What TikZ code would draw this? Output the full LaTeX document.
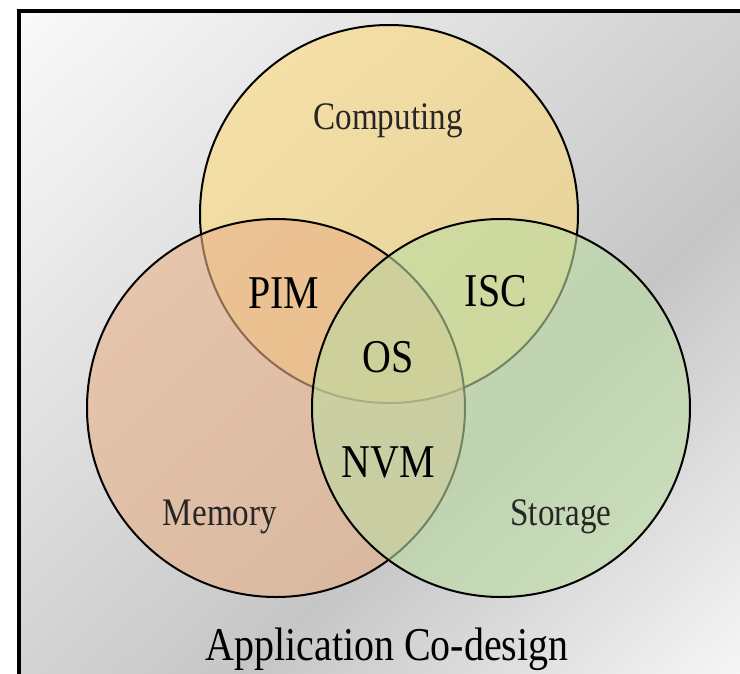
\documentclass[tikz,border=0pt]{standalone}
\usepackage{fontspec}
\setmainfont{Liberation Serif}[FakeStretch=0.85]

% panel background and set colours
\definecolor{bgA}{RGB}{250,250,250}
\definecolor{bgB}{RGB}{198,198,198}
\definecolor{bgC}{RGB}{246,246,246}
\definecolor{compC}{RGB}{252,218,122}
\definecolor{memC}{RGB}{233,177,137}
\definecolor{storC}{RGB}{188,220,162}

% light -> dark band -> light, across the panel diagonal
\pgfdeclarehorizontalshading{panelshade}{100bp}{%
  color(0bp)=(bgA); color(26bp)=(bgA); color(57.8bp)=(bgB);
  color(75bp)=(bgC); color(100bp)=(bgC)}

\begin{document}
\begin{tikzpicture}[x=1pt,y=-1pt,
  ring/.style={circle, draw=black, line width=2pt, fill opacity=0.6,
               inner sep=0pt, minimum size=378pt},
  small/.style={font=\fontsize{39}{41}\selectfont, text=black!85,
                anchor=base, inner sep=0pt},
  big/.style={font=\fontsize{47}{49}\selectfont, text=black,
              anchor=base, inner sep=0pt}]
\useasboundingbox (0,0) rectangle (740,673);
\clip (0,0) rectangle (740,673);
\fill[white] (0,0) rectangle (740,673);

% shaded panel
\begin{scope}
  \clip (19,11) rectangle (760,700);
  \shade[shading=panelshade, transform canvas={rotate=-46.3}]
    (0,-1100) rectangle (1000,1100);
\end{scope}
\draw[line width=3.5pt] (19,11) rectangle (760,700);

% the three sets
\node[ring, fill=compC] (comp) at (389,214) {};
\node[ring, fill=memC]  (mem)  at (276,408) {};
\node[ring, fill=storC] (stor) at (501,408) {};

% set names
\node[small] (computing) at (388,129) {Computing};
\node[small] (memory)    at (220,525) {Memory};
\node[small] (storage)   at (561,525) {Storage};

% overlap names
\node[big] (pim) at (284,308) {PIM};
\node[big] (isc) at (496,306) {ISC};
\node[big] (os)  at (388,372) {OS};
\node[big] (nvm) at (388,477) {NVM};

\node[big] (app) at (387,660) {Application Co-design};
\end{tikzpicture}
\end{document}
